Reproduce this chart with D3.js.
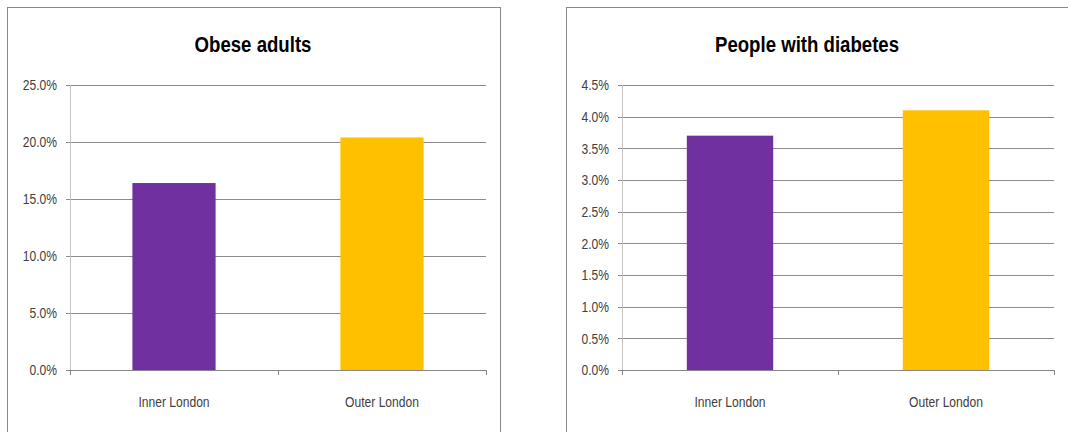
<!DOCTYPE html>
<html>
<head>
<meta charset="utf-8">
<script src="https://cdn.jsdelivr.net/npm/d3@7"></script>
<style>
  html, body { margin: 0; padding: 0; background: #fff; }
  svg { display: block; }
  text { font-family: "Liberation Sans", Arial, sans-serif; }
</style>
</head>
<body>
<svg id="chart" width="1068" height="432"></svg>
<script>
// Shared categories and colours
const categories = ["Inner London", "Outer London"];
const barColors = ["#7030a0", "#ffc000"];

// Obese adults (share of adults)
const obeseValues = [0.164, 0.204];
const obeseTicks = [0, 0.05, 0.10, 0.15, 0.20, 0.25];

// People with diabetes (share of population)
const diabetesValues = [0.037, 0.041];
const diabetesTicks = [0, 0.005, 0.010, 0.015, 0.020, 0.025, 0.030, 0.035, 0.040, 0.045];

// narrow look: horizontally condensed type
const NARROW = 0.78;
const TITLE_NARROW = 0.81;

const svg = d3.select("#chart");

function narrowText(sel, x, y, sx) {
  return sel.attr("x", 0).attr("y", 0)
    .attr("transform", `translate(${x},${y}) scale(${sx},1)`);
}

function drawPanel(opts) {
  const { frame, plot, title, values, ticks, fmt } = opts;
  const g = svg.append("g");

  // outer frame
  g.append("rect")
    .attr("x", frame.x + 0.5).attr("y", frame.y + 0.5)
    .attr("width", frame.w).attr("height", frame.h)
    .attr("fill", "#fff").attr("stroke", "#8a8a8a").attr("stroke-width", 1);

  // title
  g.append("text")
    .call(narrowText, plot.titleX, 52, TITLE_NARROW)
    .attr("text-anchor", "middle")
    .attr("font-size", 23).attr("font-weight", "bold")
    .attr("fill", "#000")
    .text(title);

  const x = d3.scaleBand().domain(categories)
    .range([plot.left, plot.right])
    .paddingInner(0.6).paddingOuter(0.3);
  const xEdges = d3.scaleBand().domain(categories)
    .range([plot.left, plot.right]).padding(0);
  const y = d3.scaleLinear().domain([0, d3.max(ticks)])
    .range([plot.bottom, plot.top]);

  // horizontal gridlines with left tick stubs
  g.append("g").selectAll("line").data(ticks.slice(1)).join("line")
    .attr("x1", plot.left - 4).attr("x2", plot.right)
    .attr("y1", d => Math.round(y(d)) + 0.5).attr("y2", d => Math.round(y(d)) + 0.5)
    .attr("stroke", "#8c8c8c").attr("stroke-width", 1);

  // y axis line
  g.append("line")
    .attr("x1", plot.left + 0.5).attr("x2", plot.left + 0.5)
    .attr("y1", plot.top).attr("y2", plot.bottom)
    .attr("stroke", "#c4c4c4");

  // y tick labels
  const yAxis = d3.axisLeft(y).tickValues(ticks).tickFormat(fmt).tickSize(0).tickPadding(0);
  const ya = g.append("g").attr("transform", `translate(${plot.left - 13},0)`).call(yAxis);
  ya.select(".domain").remove();
  ya.selectAll("text")
    .attr("font-size", 15.5).attr("fill", "#404040")
    .attr("font-family", null)
    .attr("transform", `scale(${NARROW},1)`);

  // bars
  g.append("g").selectAll("rect").data(values).join("rect")
    .attr("x", (d, i) => x(categories[i]))
    .attr("width", x.bandwidth())
    .attr("y", d => y(d))
    .attr("height", d => y(0) - y(d))
    .attr("fill", (d, i) => barColors[i]);

  // x axis baseline and category ticks
  g.append("line")
    .attr("x1", plot.left - 4).attr("x2", plot.right)
    .attr("y1", plot.bottom + 0.5).attr("y2", plot.bottom + 0.5)
    .attr("stroke", "#868686");
  const edges = categories.map(c => xEdges(c)).concat([plot.right]);
  g.append("g").selectAll("line").data(edges).join("line")
    .attr("x1", d => Math.round(d) + 0.5).attr("x2", d => Math.round(d) + 0.5)
    .attr("y1", plot.bottom).attr("y2", plot.bottom + 5)
    .attr("stroke", "#868686");

  // category labels
  g.append("g").selectAll("text").data(categories).join("text")
    .each(function (d) {
      d3.select(this).call(narrowText, xEdges(d) + xEdges.bandwidth() / 2, plot.bottom + 37, NARROW);
    })
    .attr("text-anchor", "middle")
    .attr("font-size", 15.5).attr("fill", "#404040")
    .text(d => d);
}

drawPanel({
  frame: { x: 7, y: 7, w: 493, h: 440 },
  plot: { left: 70, right: 486, top: 85, bottom: 370, titleX: 253 },
  title: "Obese adults",
  values: obeseValues,
  ticks: obeseTicks,
  fmt: d3.format(".1%")
});

drawPanel({
  frame: { x: 566, y: 7, w: 520, h: 440 },
  plot: { left: 622, right: 1054, top: 85, bottom: 370, titleX: 807 },
  title: "People with diabetes",
  values: diabetesValues,
  ticks: diabetesTicks,
  fmt: d3.format(".1%")
});
</script>
</body>
</html>
